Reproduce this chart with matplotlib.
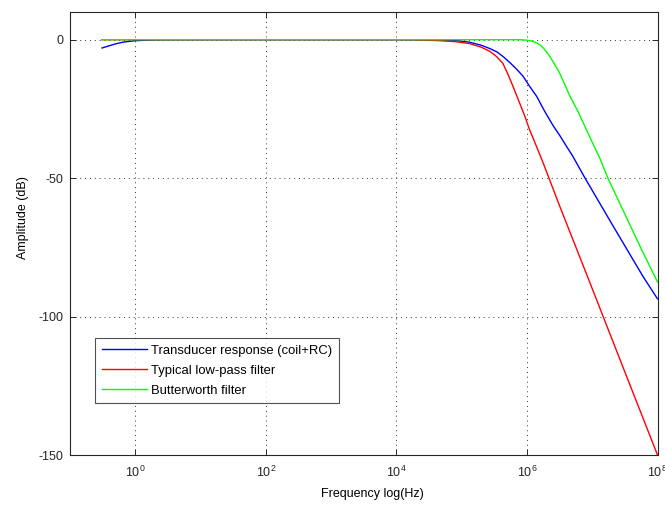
import matplotlib
matplotlib.use("Agg")
import matplotlib.pyplot as plt
import numpy as np

plt.rcParams['font.family'] = ['Liberation Sans', 'DejaVu Sans']
plt.rcParams['mathtext.fontset'] = 'custom'
plt.rcParams['mathtext.rm'] = 'Liberation Sans'
plt.rcParams['mathtext.it'] = 'Liberation Sans:italic'
plt.rcParams['axes.unicode_minus'] = False

# Frequency points (as powers of ten) and amplitudes in dB for each response
transducer_exp = [-0.51, -0.4, -0.3, -0.2, -0.1, 0.0, 0.15, 0.3, 0.5, 1.0, 4.0, 4.5,
                  4.94, 5.12, 5.3, 5.43, 5.54, 5.64, 5.74, 5.84, 5.94, 6.04, 6.15, 6.27,
                  6.40, 6.5, 6.6, 6.70, 6.89, 7.3, 7.78, 8.0]
transducer_db = [-3.0, -2.2, -1.5, -0.95, -0.62, -0.37, -0.2, -0.1, -0.04, 0.0, 0.0, -0.1,
                 -0.4, -0.9, -2.0, -3.2, -4.4, -6.2, -8.3, -10.6, -13.2, -16.8, -20.5, -25.8,
                 -31.0, -34.5, -38.3, -42.0, -50.0, -66.5, -85.6, -93.6]

lowpass_exp = [-0.51, 4.0, 4.3, 4.66, 4.9, 5.12, 5.3, 5.43, 5.53, 5.63, 5.7, 5.78, 5.89,
               5.97, 6.04, 6.14, 6.24, 6.5, 6.93, 7.5, 8.0]
lowpass_db = [0.0, 0.0, -0.05, -0.35, -0.7, -1.4, -2.7, -4.2, -6.0, -8.5, -12.0, -16.5,
              -23.0, -27.8, -32.5, -38.2, -44.0, -60.0, -85.7, -120.0, -150.0]

butter_exp = [-0.51, 5.9, 6.0, 6.05, 6.1, 6.15, 6.2, 6.25, 6.3, 6.35, 6.42, 6.5, 6.58,
              6.66, 6.78, 6.9, 7.12, 7.24, 7.5, 7.75, 7.96, 8.0]
butter_db = [0.0, 0.0, -0.2, -0.4, -0.7, -1.2, -1.9, -3.0, -4.4, -6.0, -8.8, -12.0, -16.2,
             -20.5, -25.8, -32.0, -43.0, -50.0, -63.0, -75.5, -85.6, -87.5]

labels = ['Transducer response (coil+RC)', 'Typical low-pass filter', 'Butterworth filter']
colors = ['#0000ff', '#ff0000', '#00ff00']

x_ticks = [1e0, 1e2, 1e4, 1e6, 1e8]
y_ticks = [0, -50, -100, -150]

fig = plt.figure(figsize=(6.65, 5.05), dpi=100)
ax = fig.add_axes([70 / 665, 50 / 505, 587.5 / 665, 443 / 505])

series = [(transducer_exp, transducer_db), (lowpass_exp, lowpass_db), (butter_exp, butter_db)]
for (fexp, db), lab, col in zip(series, labels, colors):
    ax.semilogx(10.0 ** np.asarray(fexp), db, color=col, lw=1.0, label=lab)

ax.set_xlim(0.1, 1e8)
ax.set_ylim(-150, 10)
ax.set_xticks(x_ticks)
ax.set_yticks(y_ticks)
ax.xaxis.set_minor_locator(matplotlib.ticker.NullLocator())
ax.tick_params(axis='both', which='both', direction='in', length=4, width=0.7,
               top=True, right=True, labelsize=9, colors='#262626')
ax.tick_params(axis='x', pad=7)
ax.tick_params(axis='y', pad=4.5)
for sp in ax.spines.values():
    sp.set_color('#262626')
    sp.set_linewidth(0.8)

ax.grid(True, which='major', color='#333333', linestyle=(0, (1, 4)), linewidth=0.7)

ax.set_xlabel('Frequency log(Hz)', fontsize=9)
ax.set_ylabel('Amplitude (dB)', fontsize=9)
ax.xaxis.set_label_coords((372 - 70) / 587.5, -0.074)
ax.yaxis.set_label_coords(-0.069, 0.535)

leg = ax.legend(loc='upper left', bbox_to_anchor=(25 / 587.5, 117 / 443), borderaxespad=0,
                fontsize=9.4, frameon=True, fancybox=False, edgecolor='#262626',
                handlelength=3.45, handletextpad=0.35, borderpad=0.5, labelspacing=0.6)
leg.get_frame().set_linewidth(0.8)

fig.savefig('out.png', dpi=100, facecolor='white')
